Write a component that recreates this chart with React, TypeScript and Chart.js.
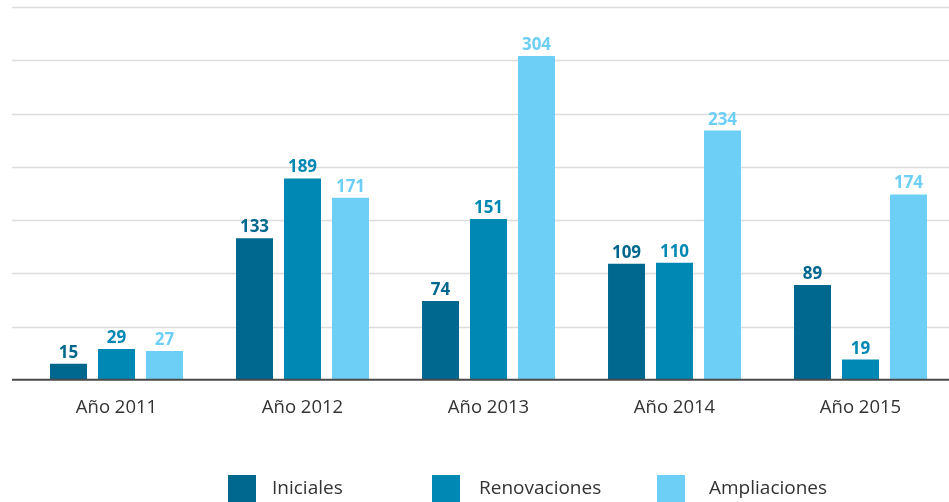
import React, { useEffect, useRef } from "react";
import { Chart, registerables } from "chart.js";

Chart.register(...registerables);

const categories = ["Año 2011", "Año 2012", "Año 2013", "Año 2014", "Año 2015"];
const seriesNames = ["Iniciales", "Renovaciones", "Ampliaciones"];
const iniciales = [15, 133, 74, 109, 89];
const renovaciones = [29, 189, 151, 110, 19];
const ampliaciones = [27, 171, 304, 234, 174];
const seriesColors = ["#00688f", "#0088b5", "#6dcff6"];
const yMin = 0;
const yMax = 350;
const yStep = 50;

const FONT = "'Open Sans', 'Noto Sans', sans-serif";

const gridPlugin = {
  id: "customGrid",
  beforeDatasetsDraw(chart: any) {
    const { ctx } = chart;
    const y = chart.scales.y;
    ctx.save();
    ctx.strokeStyle = "#dcdcdc";
    ctx.lineWidth = 1.5;
    for (let v = yMin + yStep; v <= yMax; v += yStep) {
      const py = Math.round(y.getPixelForValue(v)) + 0.5;
      ctx.beginPath();
      ctx.moveTo(12, py);
      ctx.lineTo(chart.width, py);
      ctx.stroke();
    }
    ctx.restore();
  },
  afterDatasetsDraw(chart: any) {
    const { ctx } = chart;
    const y = chart.scales.y;
    const py = y.getPixelForValue(0);
    ctx.save();
    ctx.strokeStyle = "#4a4a4a";
    ctx.lineWidth = 2;
    ctx.beginPath();
    ctx.moveTo(12, py);
    ctx.lineTo(chart.width, py);
    ctx.stroke();
    // value labels
    ctx.font = `bold 17px ${FONT}`;
    ctx.textAlign = "center";
    ctx.textBaseline = "alphabetic";
    chart.data.datasets.forEach((ds: any, i: number) => {
      const meta = chart.getDatasetMeta(i);
      ctx.fillStyle = ds.backgroundColor;
      meta.data.forEach((bar: any, j: number) => {
        ctx.fillText(String(ds.data[j]), bar.x, bar.y - 6);
      });
    });
    // legend
    const boxX = [228, 432, 657];
    const textX = [272, 479, 709];
    ctx.font = `19px ${FONT}`;
    ctx.textAlign = "left";
    ctx.textBaseline = "middle";
    chart.data.datasets.forEach((ds: any, i: number) => {
      ctx.fillStyle = ds.backgroundColor;
      ctx.fillRect(boxX[i], 475, 28, 28);
      ctx.fillStyle = "#333333";
      ctx.fillText(ds.label, textX[i], 489);
    });
    ctx.restore();
  },
};

export default function App() {
  const ref = useRef<HTMLCanvasElement>(null);
  useEffect(() => {
    if (!ref.current) return;
    const seriesData = [iniciales, renovaciones, ampliaciones];
    const chart = new Chart(ref.current, {
      type: "bar",
      data: {
        labels: categories,
        datasets: seriesNames.map((name, i) => ({
          label: name,
          data: seriesData[i],
          backgroundColor: seriesColors[i],
          borderWidth: 0,
          categoryPercentage: 0.774,
          barPercentage: 0.771,
        })),
      },
      options: {
        responsive: false,
        animation: false,
        devicePixelRatio: 1,
        layout: { padding: { left: 23.5, right: 6.5, top: 7, bottom: 66 } },
        plugins: { legend: { display: false }, tooltip: { enabled: false } },
        scales: {
          x: {
            grid: { display: false, drawTicks: false },
            border: { display: false },
            ticks: {
              padding: 17,
              color: "#333333",
              font: { family: FONT, size: 18.5 },
            },
          },
          y: {
            display: false,
            min: yMin,
            max: yMax,
            ticks: { stepSize: yStep },
          },
        },
      },
      plugins: [gridPlugin],
    });
    return () => chart.destroy();
  }, []);
  return (
    <div style={{ position: "absolute", left: 0, top: 0, width: 949, height: 502, overflow: "hidden", background: "#fff" }}>
      <canvas ref={ref} width={960} height={502} style={{ display: "block", width: 960, height: 502 }} />
    </div>
  );
}
